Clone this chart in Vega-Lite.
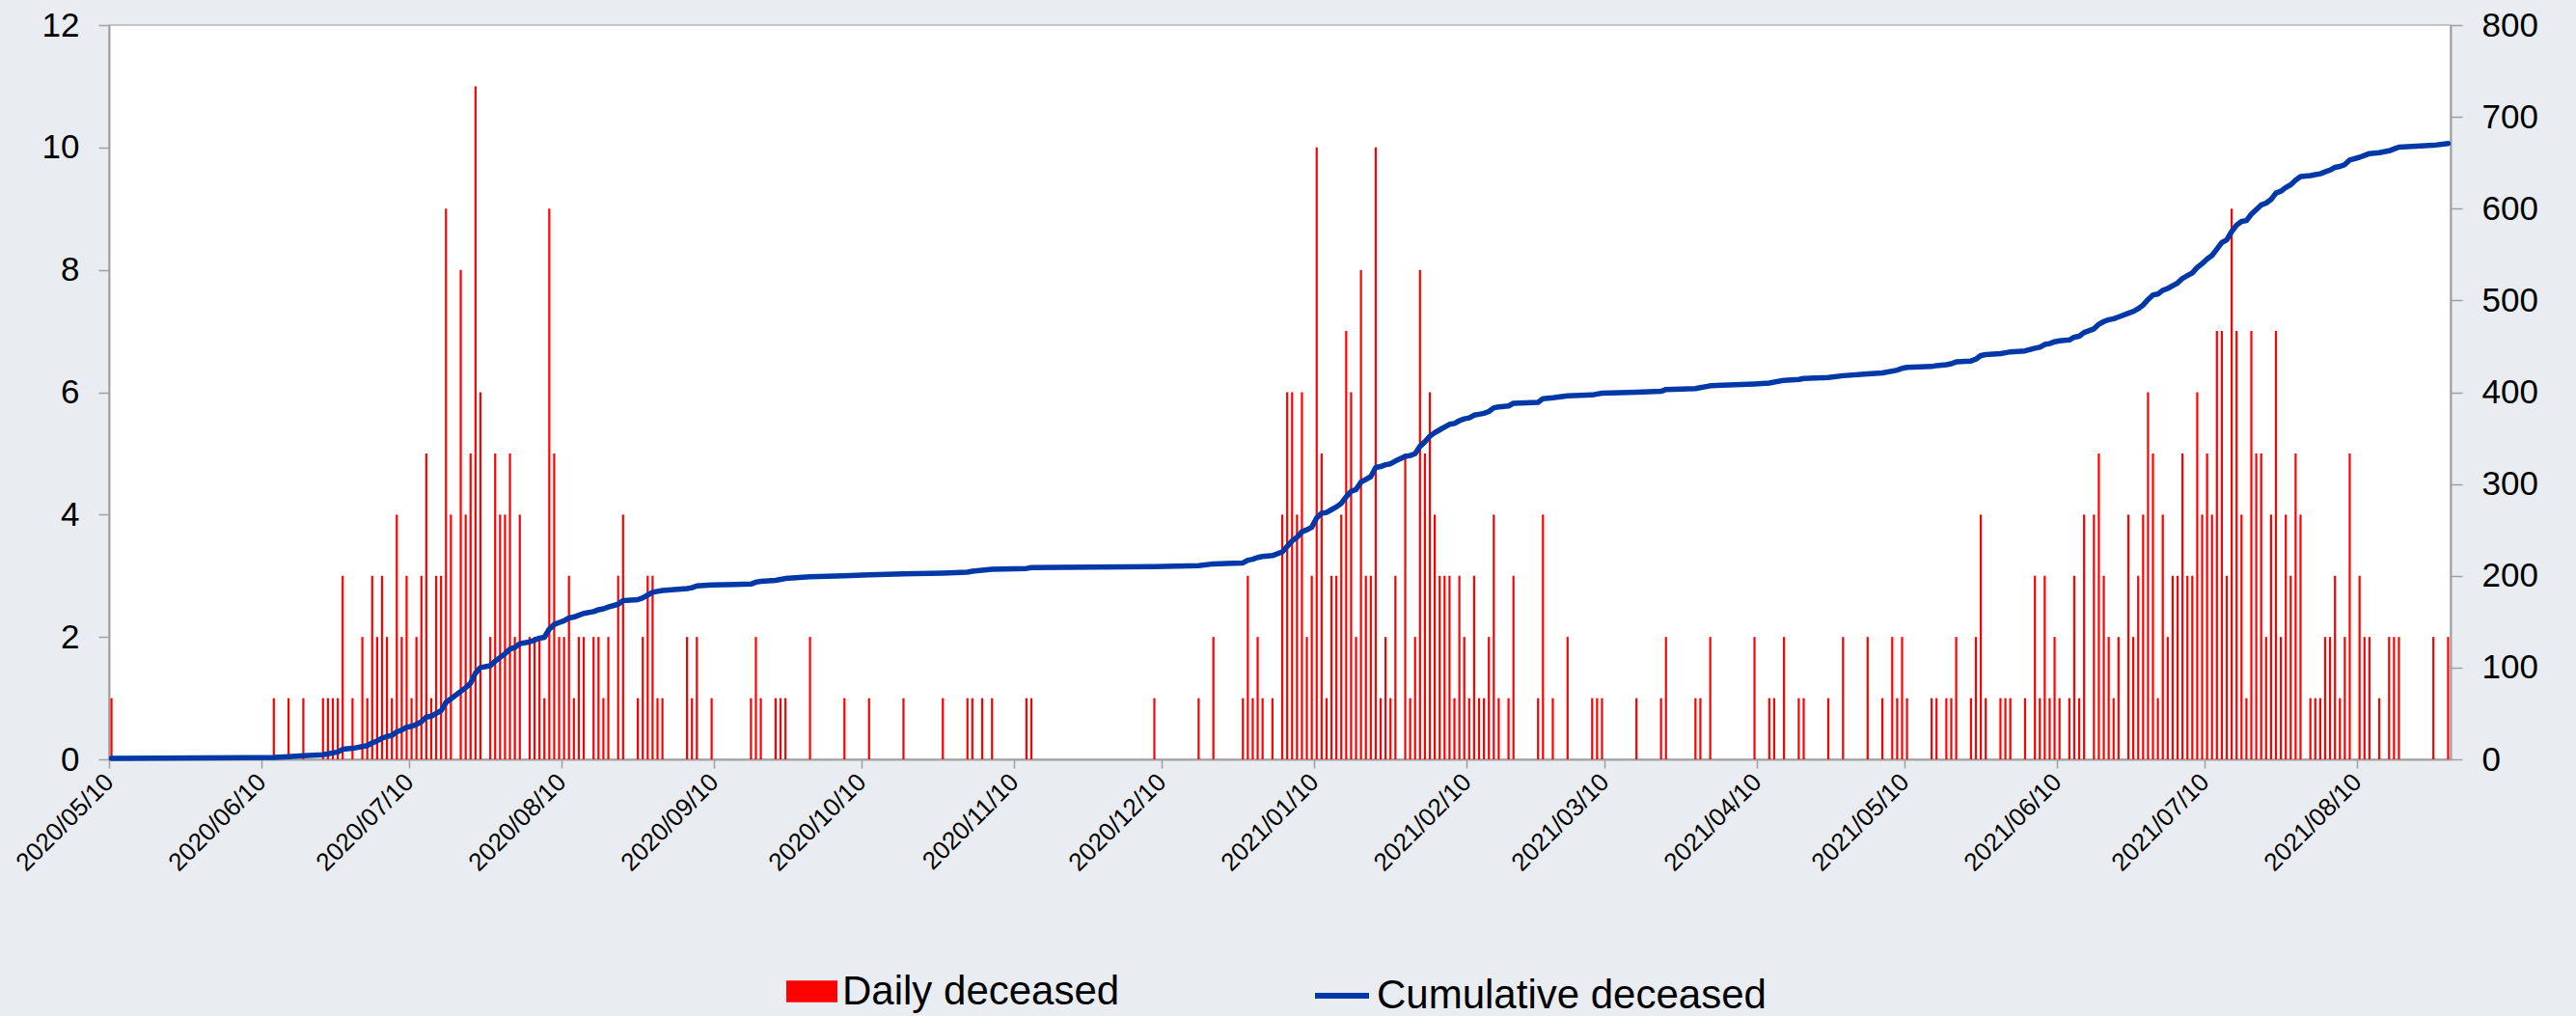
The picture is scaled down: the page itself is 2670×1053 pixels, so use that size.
{
  "$schema": "https://vega.github.io/schema/vega-lite/v6.json",
  "width": 2427,
  "height": 761,
  "autosize": {"type": "none"},
  "padding": {"left": 113, "top": 26, "right": 130, "bottom": 266},
  "background": "#e9edf1",
  "config": {
    "view": {"fill": "#ffffff", "stroke": "#b4b4b4", "strokeWidth": 1.5},
    "font": "Liberation Sans",
    "axis": {
      "labelFont": "Liberation Sans",
      "labelColor": "#000000",
      "domainColor": "#a0a0a0",
      "domainWidth": 2,
      "tickColor": "#a0a0a0",
      "tickWidth": 1.5,
      "grid": false,
      "title": null
    },
    "legend": {
      "labelFont": "Liberation Sans",
      "labelColor": "#000000",
      "labelFontSize": 42,
      "labelLimit": 1000,
      "padding": 0
    }
  },
  "data": {
    "values": [
      {"date": "2020-05-10", "daily": 1, "cumulative": 1},
      {"date": "2020-06-12", "daily": 1, "cumulative": 2},
      {"date": "2020-06-15", "daily": 1, "cumulative": 3},
      {"date": "2020-06-18", "daily": 1, "cumulative": 4},
      {"date": "2020-06-22", "daily": 1, "cumulative": 5},
      {"date": "2020-06-23", "daily": 1, "cumulative": 6},
      {"date": "2020-06-24", "daily": 1, "cumulative": 7},
      {"date": "2020-06-25", "daily": 1, "cumulative": 8},
      {"date": "2020-06-26", "daily": 3, "cumulative": 11},
      {"date": "2020-06-28", "daily": 1, "cumulative": 12},
      {"date": "2020-06-30", "daily": 2, "cumulative": 14},
      {"date": "2020-07-01", "daily": 1, "cumulative": 15},
      {"date": "2020-07-02", "daily": 3, "cumulative": 18},
      {"date": "2020-07-03", "daily": 2, "cumulative": 20},
      {"date": "2020-07-04", "daily": 3, "cumulative": 23},
      {"date": "2020-07-05", "daily": 2, "cumulative": 25},
      {"date": "2020-07-06", "daily": 1, "cumulative": 26},
      {"date": "2020-07-07", "daily": 4, "cumulative": 30},
      {"date": "2020-07-08", "daily": 2, "cumulative": 32},
      {"date": "2020-07-09", "daily": 3, "cumulative": 35},
      {"date": "2020-07-10", "daily": 1, "cumulative": 36},
      {"date": "2020-07-11", "daily": 2, "cumulative": 38},
      {"date": "2020-07-12", "daily": 3, "cumulative": 41},
      {"date": "2020-07-13", "daily": 5, "cumulative": 46},
      {"date": "2020-07-14", "daily": 1, "cumulative": 47},
      {"date": "2020-07-15", "daily": 3, "cumulative": 50},
      {"date": "2020-07-16", "daily": 3, "cumulative": 53},
      {"date": "2020-07-17", "daily": 9, "cumulative": 62},
      {"date": "2020-07-18", "daily": 4, "cumulative": 66},
      {"date": "2020-07-20", "daily": 8, "cumulative": 74},
      {"date": "2020-07-21", "daily": 4, "cumulative": 78},
      {"date": "2020-07-22", "daily": 5, "cumulative": 83},
      {"date": "2020-07-23", "daily": 11, "cumulative": 94},
      {"date": "2020-07-24", "daily": 6, "cumulative": 100},
      {"date": "2020-07-26", "daily": 2, "cumulative": 102},
      {"date": "2020-07-27", "daily": 5, "cumulative": 107},
      {"date": "2020-07-28", "daily": 4, "cumulative": 111},
      {"date": "2020-07-29", "daily": 4, "cumulative": 115},
      {"date": "2020-07-30", "daily": 5, "cumulative": 120},
      {"date": "2020-07-31", "daily": 2, "cumulative": 122},
      {"date": "2020-08-01", "daily": 4, "cumulative": 126},
      {"date": "2020-08-03", "daily": 2, "cumulative": 128},
      {"date": "2020-08-04", "daily": 2, "cumulative": 130},
      {"date": "2020-08-05", "daily": 2, "cumulative": 132},
      {"date": "2020-08-06", "daily": 1, "cumulative": 133},
      {"date": "2020-08-07", "daily": 9, "cumulative": 142},
      {"date": "2020-08-08", "daily": 5, "cumulative": 147},
      {"date": "2020-08-09", "daily": 2, "cumulative": 149},
      {"date": "2020-08-10", "daily": 2, "cumulative": 151},
      {"date": "2020-08-11", "daily": 3, "cumulative": 154},
      {"date": "2020-08-12", "daily": 1, "cumulative": 155},
      {"date": "2020-08-13", "daily": 2, "cumulative": 157},
      {"date": "2020-08-14", "daily": 2, "cumulative": 159},
      {"date": "2020-08-16", "daily": 2, "cumulative": 161},
      {"date": "2020-08-17", "daily": 2, "cumulative": 163},
      {"date": "2020-08-18", "daily": 1, "cumulative": 164},
      {"date": "2020-08-19", "daily": 2, "cumulative": 166},
      {"date": "2020-08-21", "daily": 3, "cumulative": 169},
      {"date": "2020-08-22", "daily": 4, "cumulative": 173},
      {"date": "2020-08-25", "daily": 1, "cumulative": 174},
      {"date": "2020-08-26", "daily": 2, "cumulative": 176},
      {"date": "2020-08-27", "daily": 3, "cumulative": 179},
      {"date": "2020-08-28", "daily": 3, "cumulative": 182},
      {"date": "2020-08-29", "daily": 1, "cumulative": 183},
      {"date": "2020-08-30", "daily": 1, "cumulative": 184},
      {"date": "2020-09-04", "daily": 2, "cumulative": 186},
      {"date": "2020-09-05", "daily": 1, "cumulative": 187},
      {"date": "2020-09-06", "daily": 2, "cumulative": 189},
      {"date": "2020-09-09", "daily": 1, "cumulative": 190},
      {"date": "2020-09-17", "daily": 1, "cumulative": 191},
      {"date": "2020-09-18", "daily": 2, "cumulative": 193},
      {"date": "2020-09-19", "daily": 1, "cumulative": 194},
      {"date": "2020-09-22", "daily": 1, "cumulative": 195},
      {"date": "2020-09-23", "daily": 1, "cumulative": 196},
      {"date": "2020-09-24", "daily": 1, "cumulative": 197},
      {"date": "2020-09-29", "daily": 2, "cumulative": 199},
      {"date": "2020-10-06", "daily": 1, "cumulative": 200},
      {"date": "2020-10-11", "daily": 1, "cumulative": 201},
      {"date": "2020-10-18", "daily": 1, "cumulative": 202},
      {"date": "2020-10-26", "daily": 1, "cumulative": 203},
      {"date": "2020-10-31", "daily": 1, "cumulative": 204},
      {"date": "2020-11-01", "daily": 1, "cumulative": 205},
      {"date": "2020-11-03", "daily": 1, "cumulative": 206},
      {"date": "2020-11-05", "daily": 1, "cumulative": 207},
      {"date": "2020-11-12", "daily": 1, "cumulative": 208},
      {"date": "2020-11-13", "daily": 1, "cumulative": 209},
      {"date": "2020-12-08", "daily": 1, "cumulative": 210},
      {"date": "2020-12-17", "daily": 1, "cumulative": 211},
      {"date": "2020-12-20", "daily": 2, "cumulative": 213},
      {"date": "2020-12-26", "daily": 1, "cumulative": 214},
      {"date": "2020-12-27", "daily": 3, "cumulative": 217},
      {"date": "2020-12-28", "daily": 1, "cumulative": 218},
      {"date": "2020-12-29", "daily": 2, "cumulative": 220},
      {"date": "2020-12-30", "daily": 1, "cumulative": 221},
      {"date": "2021-01-01", "daily": 1, "cumulative": 222},
      {"date": "2021-01-03", "daily": 4, "cumulative": 226},
      {"date": "2021-01-04", "daily": 6, "cumulative": 232},
      {"date": "2021-01-05", "daily": 6, "cumulative": 238},
      {"date": "2021-01-06", "daily": 4, "cumulative": 242},
      {"date": "2021-01-07", "daily": 6, "cumulative": 248},
      {"date": "2021-01-08", "daily": 2, "cumulative": 250},
      {"date": "2021-01-09", "daily": 3, "cumulative": 253},
      {"date": "2021-01-10", "daily": 10, "cumulative": 263},
      {"date": "2021-01-11", "daily": 5, "cumulative": 268},
      {"date": "2021-01-12", "daily": 1, "cumulative": 269},
      {"date": "2021-01-13", "daily": 3, "cumulative": 272},
      {"date": "2021-01-14", "daily": 3, "cumulative": 275},
      {"date": "2021-01-15", "daily": 4, "cumulative": 279},
      {"date": "2021-01-16", "daily": 7, "cumulative": 286},
      {"date": "2021-01-17", "daily": 6, "cumulative": 292},
      {"date": "2021-01-18", "daily": 2, "cumulative": 294},
      {"date": "2021-01-19", "daily": 8, "cumulative": 302},
      {"date": "2021-01-20", "daily": 3, "cumulative": 305},
      {"date": "2021-01-21", "daily": 3, "cumulative": 308},
      {"date": "2021-01-22", "daily": 10, "cumulative": 318},
      {"date": "2021-01-23", "daily": 1, "cumulative": 319},
      {"date": "2021-01-24", "daily": 2, "cumulative": 321},
      {"date": "2021-01-25", "daily": 1, "cumulative": 322},
      {"date": "2021-01-26", "daily": 3, "cumulative": 325},
      {"date": "2021-01-28", "daily": 5, "cumulative": 330},
      {"date": "2021-01-29", "daily": 1, "cumulative": 331},
      {"date": "2021-01-30", "daily": 2, "cumulative": 333},
      {"date": "2021-01-31", "daily": 8, "cumulative": 341},
      {"date": "2021-02-01", "daily": 5, "cumulative": 346},
      {"date": "2021-02-02", "daily": 6, "cumulative": 352},
      {"date": "2021-02-03", "daily": 4, "cumulative": 356},
      {"date": "2021-02-04", "daily": 3, "cumulative": 359},
      {"date": "2021-02-05", "daily": 3, "cumulative": 362},
      {"date": "2021-02-06", "daily": 3, "cumulative": 365},
      {"date": "2021-02-07", "daily": 1, "cumulative": 366},
      {"date": "2021-02-08", "daily": 3, "cumulative": 369},
      {"date": "2021-02-09", "daily": 2, "cumulative": 371},
      {"date": "2021-02-10", "daily": 1, "cumulative": 372},
      {"date": "2021-02-11", "daily": 3, "cumulative": 375},
      {"date": "2021-02-12", "daily": 1, "cumulative": 376},
      {"date": "2021-02-13", "daily": 1, "cumulative": 377},
      {"date": "2021-02-14", "daily": 2, "cumulative": 379},
      {"date": "2021-02-15", "daily": 4, "cumulative": 383},
      {"date": "2021-02-16", "daily": 1, "cumulative": 384},
      {"date": "2021-02-18", "daily": 1, "cumulative": 385},
      {"date": "2021-02-19", "daily": 3, "cumulative": 388},
      {"date": "2021-02-24", "daily": 1, "cumulative": 389},
      {"date": "2021-02-25", "daily": 4, "cumulative": 393},
      {"date": "2021-02-27", "daily": 1, "cumulative": 394},
      {"date": "2021-03-02", "daily": 2, "cumulative": 396},
      {"date": "2021-03-07", "daily": 1, "cumulative": 397},
      {"date": "2021-03-08", "daily": 1, "cumulative": 398},
      {"date": "2021-03-09", "daily": 1, "cumulative": 399},
      {"date": "2021-03-16", "daily": 1, "cumulative": 400},
      {"date": "2021-03-21", "daily": 1, "cumulative": 401},
      {"date": "2021-03-22", "daily": 2, "cumulative": 403},
      {"date": "2021-03-28", "daily": 1, "cumulative": 404},
      {"date": "2021-03-29", "daily": 1, "cumulative": 405},
      {"date": "2021-03-31", "daily": 2, "cumulative": 407},
      {"date": "2021-04-09", "daily": 2, "cumulative": 409},
      {"date": "2021-04-12", "daily": 1, "cumulative": 410},
      {"date": "2021-04-13", "daily": 1, "cumulative": 411},
      {"date": "2021-04-15", "daily": 2, "cumulative": 413},
      {"date": "2021-04-18", "daily": 1, "cumulative": 414},
      {"date": "2021-04-19", "daily": 1, "cumulative": 415},
      {"date": "2021-04-24", "daily": 1, "cumulative": 416},
      {"date": "2021-04-27", "daily": 2, "cumulative": 418},
      {"date": "2021-05-02", "daily": 2, "cumulative": 420},
      {"date": "2021-05-05", "daily": 1, "cumulative": 421},
      {"date": "2021-05-07", "daily": 2, "cumulative": 423},
      {"date": "2021-05-08", "daily": 1, "cumulative": 424},
      {"date": "2021-05-09", "daily": 2, "cumulative": 426},
      {"date": "2021-05-10", "daily": 1, "cumulative": 427},
      {"date": "2021-05-15", "daily": 1, "cumulative": 428},
      {"date": "2021-05-16", "daily": 1, "cumulative": 429},
      {"date": "2021-05-18", "daily": 1, "cumulative": 430},
      {"date": "2021-05-19", "daily": 1, "cumulative": 431},
      {"date": "2021-05-20", "daily": 2, "cumulative": 433},
      {"date": "2021-05-23", "daily": 1, "cumulative": 434},
      {"date": "2021-05-24", "daily": 2, "cumulative": 436},
      {"date": "2021-05-25", "daily": 4, "cumulative": 440},
      {"date": "2021-05-26", "daily": 1, "cumulative": 441},
      {"date": "2021-05-29", "daily": 1, "cumulative": 442},
      {"date": "2021-05-30", "daily": 1, "cumulative": 443},
      {"date": "2021-05-31", "daily": 1, "cumulative": 444},
      {"date": "2021-06-03", "daily": 1, "cumulative": 445},
      {"date": "2021-06-05", "daily": 3, "cumulative": 448},
      {"date": "2021-06-06", "daily": 1, "cumulative": 449},
      {"date": "2021-06-07", "daily": 3, "cumulative": 452},
      {"date": "2021-06-08", "daily": 1, "cumulative": 453},
      {"date": "2021-06-09", "daily": 2, "cumulative": 455},
      {"date": "2021-06-10", "daily": 1, "cumulative": 456},
      {"date": "2021-06-12", "daily": 1, "cumulative": 457},
      {"date": "2021-06-13", "daily": 3, "cumulative": 460},
      {"date": "2021-06-14", "daily": 1, "cumulative": 461},
      {"date": "2021-06-15", "daily": 4, "cumulative": 465},
      {"date": "2021-06-17", "daily": 4, "cumulative": 469},
      {"date": "2021-06-18", "daily": 5, "cumulative": 474},
      {"date": "2021-06-19", "daily": 3, "cumulative": 477},
      {"date": "2021-06-20", "daily": 2, "cumulative": 479},
      {"date": "2021-06-21", "daily": 1, "cumulative": 480},
      {"date": "2021-06-22", "daily": 2, "cumulative": 482},
      {"date": "2021-06-24", "daily": 4, "cumulative": 486},
      {"date": "2021-06-25", "daily": 2, "cumulative": 488},
      {"date": "2021-06-26", "daily": 3, "cumulative": 491},
      {"date": "2021-06-27", "daily": 4, "cumulative": 495},
      {"date": "2021-06-28", "daily": 6, "cumulative": 501},
      {"date": "2021-06-29", "daily": 5, "cumulative": 506},
      {"date": "2021-06-30", "daily": 1, "cumulative": 507},
      {"date": "2021-07-01", "daily": 4, "cumulative": 511},
      {"date": "2021-07-02", "daily": 2, "cumulative": 513},
      {"date": "2021-07-03", "daily": 3, "cumulative": 516},
      {"date": "2021-07-04", "daily": 3, "cumulative": 519},
      {"date": "2021-07-05", "daily": 5, "cumulative": 524},
      {"date": "2021-07-06", "daily": 3, "cumulative": 527},
      {"date": "2021-07-07", "daily": 3, "cumulative": 530},
      {"date": "2021-07-08", "daily": 6, "cumulative": 536},
      {"date": "2021-07-09", "daily": 4, "cumulative": 540},
      {"date": "2021-07-10", "daily": 5, "cumulative": 545},
      {"date": "2021-07-11", "daily": 4, "cumulative": 549},
      {"date": "2021-07-12", "daily": 7, "cumulative": 556},
      {"date": "2021-07-13", "daily": 7, "cumulative": 563},
      {"date": "2021-07-14", "daily": 3, "cumulative": 566},
      {"date": "2021-07-15", "daily": 9, "cumulative": 575},
      {"date": "2021-07-16", "daily": 7, "cumulative": 582},
      {"date": "2021-07-17", "daily": 4, "cumulative": 586},
      {"date": "2021-07-18", "daily": 1, "cumulative": 587},
      {"date": "2021-07-19", "daily": 7, "cumulative": 594},
      {"date": "2021-07-20", "daily": 5, "cumulative": 599},
      {"date": "2021-07-21", "daily": 5, "cumulative": 604},
      {"date": "2021-07-22", "daily": 2, "cumulative": 606},
      {"date": "2021-07-23", "daily": 4, "cumulative": 610},
      {"date": "2021-07-24", "daily": 7, "cumulative": 617},
      {"date": "2021-07-25", "daily": 2, "cumulative": 619},
      {"date": "2021-07-26", "daily": 4, "cumulative": 623},
      {"date": "2021-07-27", "daily": 3, "cumulative": 626},
      {"date": "2021-07-28", "daily": 5, "cumulative": 631},
      {"date": "2021-07-29", "daily": 4, "cumulative": 635},
      {"date": "2021-07-31", "daily": 1, "cumulative": 636},
      {"date": "2021-08-01", "daily": 1, "cumulative": 637},
      {"date": "2021-08-02", "daily": 1, "cumulative": 638},
      {"date": "2021-08-03", "daily": 2, "cumulative": 640},
      {"date": "2021-08-04", "daily": 2, "cumulative": 642},
      {"date": "2021-08-05", "daily": 3, "cumulative": 645},
      {"date": "2021-08-06", "daily": 1, "cumulative": 646},
      {"date": "2021-08-07", "daily": 2, "cumulative": 648},
      {"date": "2021-08-08", "daily": 5, "cumulative": 653},
      {"date": "2021-08-10", "daily": 3, "cumulative": 656},
      {"date": "2021-08-11", "daily": 2, "cumulative": 658},
      {"date": "2021-08-12", "daily": 2, "cumulative": 660},
      {"date": "2021-08-14", "daily": 1, "cumulative": 661},
      {"date": "2021-08-16", "daily": 2, "cumulative": 663},
      {"date": "2021-08-17", "daily": 2, "cumulative": 665},
      {"date": "2021-08-18", "daily": 2, "cumulative": 667},
      {"date": "2021-08-25", "daily": 2, "cumulative": 669},
      {"date": "2021-08-28", "daily": 2, "cumulative": 671}
    ]
  },
  "encoding": {
    "x": {
      "field": "date",
      "timeUnit": "utcyearmonthdate",
      "type": "temporal",
      "bandPosition": 0.5,
      "scale": {
        "domain": [
          {"year": 2020, "month": 5, "date": 10, "utc": true},
          {"year": 2021, "month": 8, "date": 29, "utc": true}
        ],
        "nice": false
      },
      "axis": {
        "values": [
          {"year": 2020, "month": 5, "date": 10, "utc": true},
          {"year": 2020, "month": 6, "date": 10, "utc": true},
          {"year": 2020, "month": 7, "date": 10, "utc": true},
          {"year": 2020, "month": 8, "date": 10, "utc": true},
          {"year": 2020, "month": 9, "date": 10, "utc": true},
          {"year": 2020, "month": 10, "date": 10, "utc": true},
          {"year": 2020, "month": 11, "date": 10, "utc": true},
          {"year": 2020, "month": 12, "date": 10, "utc": true},
          {"year": 2021, "month": 1, "date": 10, "utc": true},
          {"year": 2021, "month": 2, "date": 10, "utc": true},
          {"year": 2021, "month": 3, "date": 10, "utc": true},
          {"year": 2021, "month": 4, "date": 10, "utc": true},
          {"year": 2021, "month": 5, "date": 10, "utc": true},
          {"year": 2021, "month": 6, "date": 10, "utc": true},
          {"year": 2021, "month": 7, "date": 10, "utc": true},
          {"year": 2021, "month": 8, "date": 10, "utc": true}
        ],
        "format": "%Y/%m/%d",
        "labelAngle": -45,
        "labelAlign": "right",
        "labelBaseline": "middle",
        "labelFontSize": 26,
        "labelPadding": 10,
        "labelOverlap": false,
        "labelFlush": false,
        "labelBound": false,
        "tickSize": 9
      }
    }
  },
  "layer": [
    {
      "mark": {"type": "bar", "width": 2.2},
      "encoding": {
        "y": {
          "field": "daily",
          "type": "quantitative",
          "scale": {"domain": [0, 12], "nice": false},
          "axis": {
            "orient": "left",
            "values": [0, 2, 4, 6, 8, 10, 12],
            "labelFontSize": 35,
            "labelPadding": 20,
            "tickSize": 11
          }
        },
        "color": {
          "datum": "Daily deceased",
          "scale": {"domain": ["Daily deceased"], "range": ["#ff0000"]},
          "legend": {
            "orient": "none",
            "legendX": 702,
            "legendY": 975,
            "title": null,
            "symbolType": "M-1,-0.42H1V0.42H-1Z",
            "symbolSize": 2809,
            "symbolStrokeWidth": 0,
            "labelOffset": 5
          }
        }
      }
    },
    {
      "mark": {"type": "line", "strokeWidth": 5.5, "strokeJoin": "round", "strokeCap": "round"},
      "encoding": {
        "y": {
          "field": "cumulative",
          "type": "quantitative",
          "scale": {"domain": [0, 800], "nice": false},
          "axis": {
            "orient": "right",
            "values": [0, 100, 200, 300, 400, 500, 600, 700, 800],
            "labelFontSize": 35,
            "labelPadding": 20,
            "tickSize": 12
          }
        },
        "stroke": {
          "datum": "Cumulative deceased",
          "scale": {"domain": ["Cumulative deceased"], "range": ["#0038a8"]},
          "legend": {
            "orient": "none",
            "legendX": 1247,
            "legendY": 975,
            "title": null,
            "symbolType": "stroke",
            "symbolSize": 3136,
            "symbolStrokeWidth": 6,
            "labelOffset": 5
          }
        }
      }
    }
  ],
  "resolve": {"scale": {"y": "independent"}}
}
